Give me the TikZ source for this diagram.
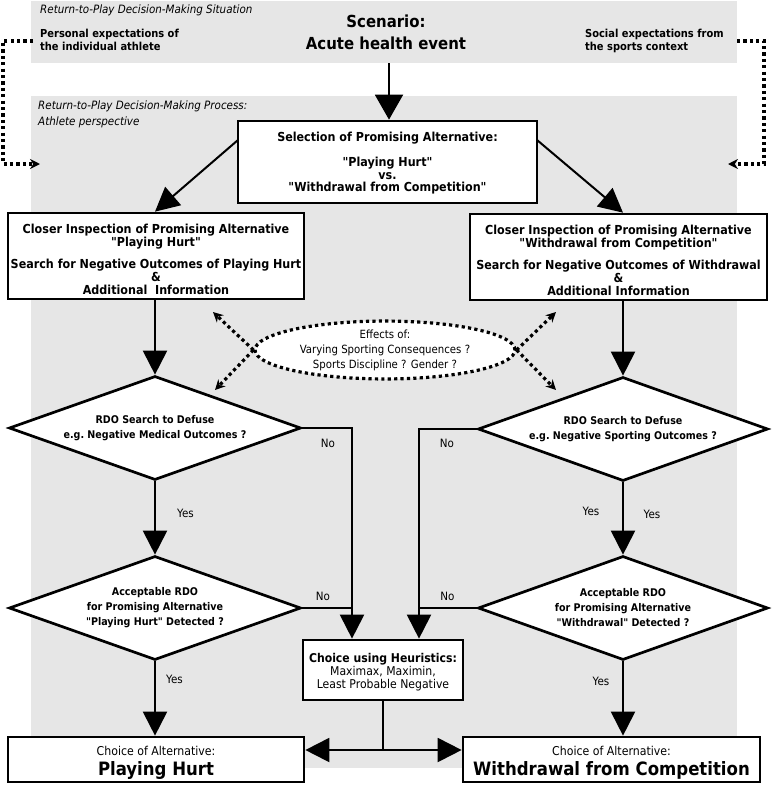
\documentclass[tikz,border=0pt]{standalone}
\usepackage{fontspec}
\setmainfont{DejaVu Sans Condensed}[Ligatures=TeXOff]
\usetikzlibrary{arrows.meta,shapes.geometric}
\definecolor{bandgray}{RGB}{230,230,230}
\tikzset{
  box/.style={draw, line width=2.7pt, fill=white, align=center, inner sep=0pt,
    font=\fontsize{12.4}{12.6}\selectfont\bfseries},
  dia/.style={diamond, draw, line width=2.7pt, fill=white, aspect=2.8, inner sep=0pt,
    minimum width=292pt, minimum height=104pt, align=center,
    font=\fontsize{10.6}{14.5}\selectfont\bfseries},
  con/.style={line width=2pt, -{Triangle[width=24pt,length=24pt]}},
  bigcon/.style={line width=2pt, -{Triangle[width=28pt,length=25pt]}},
  plainline/.style={line width=2pt},
  dots/.style={line width=3.2pt, dash pattern=on 3.2pt off 3.2pt},
  dotarrow/.style={dots, -{Stealth[length=10pt,width=10pt]}},
  lab/.style={font=\fontsize{11.5}{12}\selectfont, inner sep=1pt},
  ital/.style={font=\fontsize{11.5}{15.5}\selectfont\itshape, align=left, inner sep=0pt, anchor=north west},
  btxt/.style={font=\fontsize{11}{13}\selectfont\bfseries, align=left, inner sep=0pt, anchor=north west},
}
\begin{document}
\begin{tikzpicture}[x=1pt,y=-1pt]
\useasboundingbox (0,0) rectangle (772,785);
% bands
\fill[bandgray] (31,1) rectangle (737,63);
\fill[bandgray] (31,96) rectangle (737,768);

% top band texts
\node[ital] (sitlab) at (40,5) {Return-to-Play Decision-Making Situation};
\node[align=center, inner sep=0pt, font=\fontsize{16.6}{22}\selectfont\bfseries] (scen) at (386,32) {Scenario:\\Acute health event};
\node[btxt] (pers) at (40,29) {Personal expectations of\\the individual athlete};
\node[btxt] (soc) at (585,29) {Social expectations from\\the sports context};
\node[ital] (proclab) at (38,101) {Return-to-Play Decision-Making Process:\\Athlete perspective};

% boxes
\node[box, minimum width=299pt, minimum height=82pt] (sel) at (387.5,162)
  {\rule{0pt}{12pt}Selection of Promising Alternative:\\[12pt]"Playing Hurt"\\vs.\\"Withdrawal from Competition"};
\node[box, minimum width=296pt, minimum height=86pt] (lbox) at (156,256)
  {\rule{0pt}{16pt}Closer Inspection of Promising Alternative\\"Playing Hurt"\\[10pt]Search for Negative Outcomes of Playing Hurt\\\&\\Additional\ \ Information};
\node[box, minimum width=297pt, minimum height=86pt] (rbox) at (618.5,257)
  {\rule{0pt}{16pt}Closer Inspection of Promising Alternative\\"Withdrawal from Competition"\\[10pt]Search for Negative Outcomes of Withdrawal\\\&\\Additional Information};

% ellipse
\node[ellipse, draw, dots, fill=white, minimum width=260pt, minimum height=56pt, inner sep=0pt,
  align=center, font=\fontsize{11.3}{15}\selectfont] (eff) at (385,350)
  {Effects of:\\Varying Sporting Consequences ?\\Sports Discipline ? Gender ?};
\coordinate (eul) at (213,312);
\coordinate (edl) at (215,390);
\coordinate (eur) at (556,312);
\coordinate (edr) at (556,390);
\draw[dotarrow] (eff.west) -- (eul);
\draw[dotarrow] (eff.west) -- (edl);
\draw[dotarrow] (eff.east) -- (eur);
\draw[dotarrow] (eff.east) -- (edr);

% diamonds
\node[dia] (dl1) at (155,428) {RDO Search to Defuse\\e.g.\ Negative Medical Outcomes ?};
\node[dia, minimum width=290pt] (dr1) at (623,429) {RDO Search to Defuse\\e.g.\ Negative Sporting Outcomes ?};
\node[dia, font=\fontsize{10.6}{15}\selectfont\bfseries] (dl2) at (155,608) {Acceptable RDO\\for Promising Alternative\\"Playing Hurt" Detected ?};
\node[dia, minimum width=290pt, font=\fontsize{10.6}{15}\selectfont\bfseries] (dr2) at (623,608) {Acceptable RDO\\for Promising Alternative\\"Withdrawal" Detected ?};

% heuristics and final boxes
\node[box, minimum width=160pt, minimum height=60pt, font=\fontsize{12.1}{12.8}\selectfont] (heur) at (383,670)
  {\rule{0pt}{13pt}\textbf{Choice using Heuristics:}\\Maximax, Maximin,\\Least Probable Negative};
\node[box, minimum width=296pt, minimum height=45pt, font=\fontsize{12.2}{20}\selectfont] (ph) at (156,759.5)
  {\rule{0pt}{15pt}Choice of Alternative:\\{\fontsize{18.4}{20}\selectfont\bfseries Playing Hurt}};
\node[box, minimum width=297pt, minimum height=45pt, font=\fontsize{12.2}{20}\selectfont] (wd) at (611.5,759.5)
  {\rule{0pt}{15pt}Choice of Alternative:\\{\fontsize{18.4}{20}\selectfont\bfseries Withdrawal from Competition}};

% side dotted feedback lines
\coordinate (pl0) at (33,41);
\coordinate (pl1) at (3,41);
\coordinate (pl2) at (3,164);
\coordinate (pl3) at (40,164);
\draw[dotarrow] (pl0) -- (pl1) -- (pl2) -- (pl3);
\coordinate (pr0) at (737,41);
\coordinate (pr1) at (764,41);
\coordinate (pr2) at (764,164);
\coordinate (pr3) at (728,164);
\draw[dotarrow] (pr0) -- (pr1) -- (pr2) -- (pr3);

% main connectors
\coordinate (bandbot) at (389,63);
\draw[bigcon] (bandbot) -- (bandbot |- sel.north);
\coordinate (sl) at (238,140);
\coordinate (sr) at (537,140);
\draw[con] (sl) -- (lbox.north -| dl1.north);
\draw[con] (sr) -- (rbox.north -| dr1.north);
\draw[con] (lbox.south -| dl1.north) -- (dl1.north);
\draw[con] (rbox.south -| dr1.north) -- (dr1.north);
\draw[con] (dl1.south) -- (dl2.north);
\draw[con] (dr1.south) -- (dr2.north);
\draw[con] (dl2.south) -- (ph.north -| dl2.south);
\draw[con] (dr2.south) -- (wd.north -| dr2.south);
\node[lab] (yesl1) at (185.5,513) {Yes};
\node[lab] (yesl2) at (174.5,679) {Yes};
\node[lab] (yesr1) at (591,511) {Yes};
\node[lab] (yesr2) at (652,514) {Yes};
\node[lab] (yesr3) at (601,681) {Yes};

% No branches
\coordinate (cl) at (352,0);
\coordinate (cr) at (419,0);
\draw[con] (dl1.east) -| (cl |- heur.north);
\draw[con] (dr1.west) -| (cr |- heur.north);
\draw[plainline] (dl2.east) -- (dl2.east -| cl);
\draw[plainline] (dr2.west) -- (dr2.west -| cr);
\node[lab] (nol1) at (328,443) {No};
\node[lab] (nor1) at (447,443) {No};
\node[lab] (nol2) at (323,596) {No};
\node[lab] (nor2) at (447.5,596) {No};

% heuristics to final choices
\coordinate (split) at (383,750);
\draw[plainline] (heur.south) -- (split);
\draw[con] (split) -- (split -| ph.east);
\draw[con] (split) -- (split -| wd.west);
\end{tikzpicture}
\end{document}
